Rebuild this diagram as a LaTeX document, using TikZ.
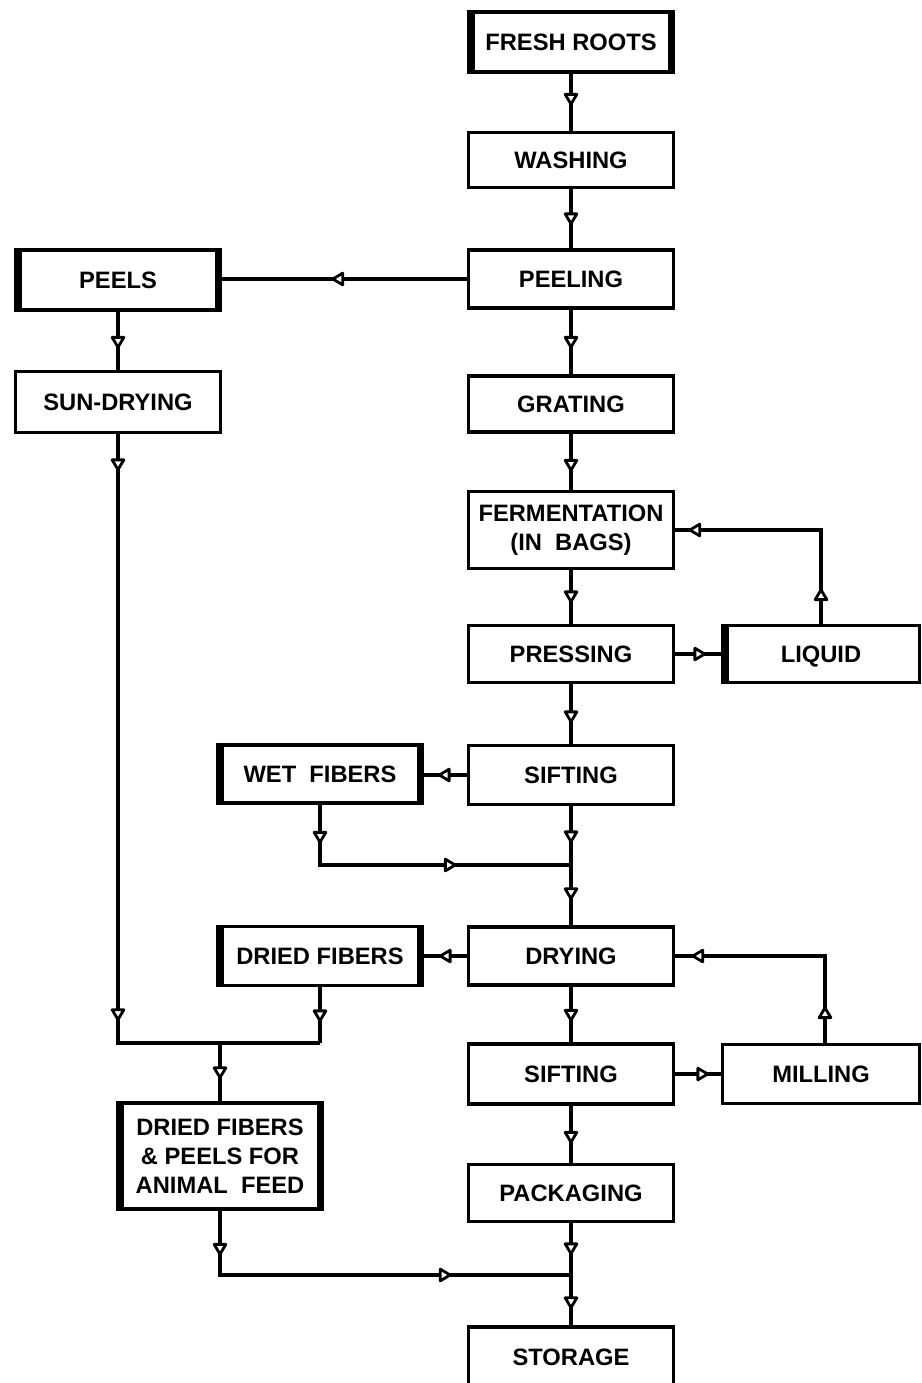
\documentclass[tikz,border=0pt]{standalone}
\usepackage{fontspec}
\setmainfont{Liberation Sans}
\usetikzlibrary{arrows.meta,decorations.markings}
\tikzset{
  tri/.tip={Triangle[length=8pt,width=9pt,fill=white,line width=1.6pt,round]},
  box/.style={draw, line width=1.8pt, minimum width=4.1cm, minimum height=#1,
    inner sep=0pt, align=center,
    font=\fontsize{13.5}{16.5}\selectfont\bfseries},
  box/.default=1.16cm,
  oneline/.style={text height=9.7pt, text depth=0pt},
  thickLR/.style={path picture={
    \fill (path picture bounding box.north west) rectangle ([xshift=0.13cm]path picture bounding box.south west);
    \fill (path picture bounding box.north east) rectangle ([xshift=-0.11cm]path picture bounding box.south east);}},
  thickL/.style={path picture={
    \fill (path picture bounding box.north west) rectangle ([xshift=0.13cm]path picture bounding box.south west);}},
  flow/.style={line width=2pt},
  ar/.style={flow, postaction={decorate}, decoration={markings, mark=at position #1 with {\arrow{tri}}}},
  artwo/.style n args={2}{flow, postaction={decorate}, decoration={markings,
    mark=at position #1 with {\arrow{tri}}, mark=at position #2 with {\arrow{tri}}}},
}
\begin{document}
\begin{tikzpicture}[x=0.02cm,y=-0.02cm]
\useasboundingbox (0,0) rectangle (921,1383);

% main column
\node[box=1.2cm, oneline, thickLR] (roots) at (571,42) {FRESH ROOTS};
\node[box=1.1cm, oneline] (wash) at (571,160) {WASHING};
\node[box=1.16cm, oneline] (peeling) at (571,279) {PEELING};
\node[box=1.12cm, oneline] (grating) at (571,404) {GRATING};
\node[box=1.54cm] (ferm) at (571,530) {FERMENTATION\\(IN\ \ BAGS)};
\node[box=1.14cm, oneline] (press) at (571,654) {PRESSING};
\node[box=1.18cm, oneline] (sift1) at (571,775) {SIFTING};
\node[box=1.16cm, oneline] (drying) at (571,956) {DRYING};
\node[box=1.2cm, oneline] (sift2) at (571,1074) {SIFTING};
\node[box=1.14cm, oneline] (pack) at (571,1193) {PACKAGING};
\node[box=1.2cm, oneline] (storage) at (571,1357) {STORAGE};

% right column
\node[box=1.14cm, oneline, minimum width=3.94cm, thickL] (liquid) at (821,654) {LIQUID};
\node[box=1.18cm, oneline, minimum width=3.94cm] (milling) at (821,1074) {MILLING};

% left column
\node[box=1.2cm, oneline, thickLR] (peels) at (118,280) {PEELS};
\node[box=1.22cm, oneline] (sun) at (118,402) {SUN-DRYING};
\node[box=1.16cm, oneline, thickLR] (wet) at (320,774) {WET\ \ FIBERS};
\node[box=1.18cm, oneline, thickLR] (dried) at (320,956) {DRIED FIBERS};
\node[box=2.12cm, thickLR] (feed) at (220,1156) {DRIED FIBERS\\\&\ PEELS FOR\\ANIMAL\ \ FEED};

% junctions
\coordinate (jA) at (571,865);
\coordinate (jB) at (571,1275);
\coordinate (jL) at (118,1043);
\coordinate (jM) at (220,1043);
\coordinate (jR) at (320,1043);

% main flow
\draw[ar=0.64cm] (roots.south) -- (wash.north);
\draw[ar=0.72cm] (wash.south) -- (peeling.north);
\draw[ar=0.78cm] (peeling.south) -- (grating.north);
\draw[ar=0.76cm] (grating.south) -- (ferm.north);
\draw[ar=0.66cm] (ferm.south) -- (press.north);
\draw[ar=0.78cm] (press.south) -- (sift1.north);
\draw[ar=0.74cm] (sift1.south) -- (jA);
\draw[ar=0.70cm] (jA) -- (drying.north);
\draw[ar=0.70cm] (drying.south) -- (sift2.north);
\draw[ar=0.76cm] (sift2.south) -- (pack.north);
\draw[ar=0.64cm] (pack.south) -- (jB);
\draw[ar=0.68cm] (jB) -- (storage.north);

% side flows
\draw[ar=2.71cm] (peeling.west) -- (peeling.west -| peels.east);
\draw[ar=0.62cm] (press.east) -- (liquid.west);
\draw[artwo={0.71cm}{4.53cm}] (liquid.north) |- (ferm.east);
\draw[ar=0.58cm] (sift1.west) -- (sift1.west -| wet.east);
\draw[artwo={0.78cm}{3.94cm}] (wet.south) |- (jA);
\draw[ar=0.56cm] (drying.west) -- (drying.west -| dried.east);
\draw[ar=0.68cm] (sift2.east) -- (sift2.east -| milling.west);
\draw[artwo={0.73cm}{4.41cm}] ([xshift=0.08cm]milling.north) |- (drying.east);

% left branch
\draw[ar=0.74cm] (peels.south) -- (sun.north);
\draw[artwo={0.74cm}{11.74cm}] (sun.south) -- (jL) -- (jR);
\draw[ar=0.70cm] (dried.south) -- (jR);
\draw[ar=0.72cm] (jM) -- (feed.north);
\draw[artwo={0.90cm}{5.92cm}] (feed.south) |- (jB);
\end{tikzpicture}
\end{document}
